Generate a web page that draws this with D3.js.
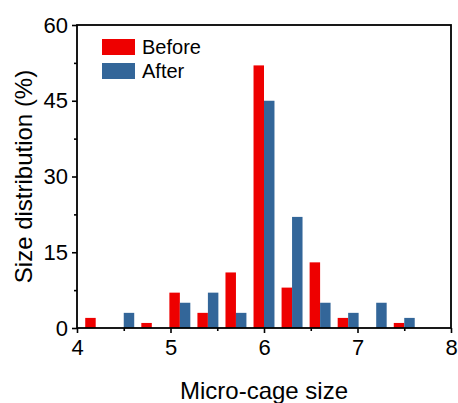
<!DOCTYPE html>
<html>
<head>
<meta charset="utf-8">
<script src="https://cdn.jsdelivr.net/npm/d3@7"></script>
<style>
  html, body { margin: 0; padding: 0; background: #fff; }
  svg { display: block; font-family: Arial, "Liberation Sans", sans-serif; }
</style>
</head>
<body>
<svg id="chart" width="458" height="403"></svg>
<script>
// Bin centres (micro-cage size) and percentage in each bin
const binCenters = [4.2, 4.5, 4.8, 5.1, 5.4, 5.7, 6.0, 6.3, 6.6, 6.9, 7.2, 7.5];
const beforeValues = [2, 0, 1, 7, 3, 11, 52, 8, 13, 2, 0, 1];
const afterValues  = [0, 3, 0, 5, 7, 3, 45, 22, 5, 3, 5, 2];
const seriesNames = ["Before", "After"];
const seriesColors = ["#ee0000", "#336699"];
const xTicks = [4, 5, 6, 7, 8];
const xMinorTicks = [4.5, 5.5, 6.5, 7.5];
const yTicks = [0, 15, 30, 45, 60];
const yMinorTicks = [7.5, 22.5, 37.5, 52.5];

const svg = d3.select("#chart");
const margin = { left: 77, right: 7, top: 25, bottom: 75 };
const W = 458, H = 403;

const x = d3.scaleLinear().domain([4, 8]).range([margin.left, W - margin.right]);
const y = d3.scaleLinear().domain([0, 60]).range([H - margin.bottom, margin.top]);

const barW = 0.112; // bar width in data units
const series = [beforeValues, afterValues];

// bars: Before to the left of each bin centre, After to the right
series.forEach((vals, si) => {
  svg.append("g")
    .selectAll("rect")
    .data(binCenters.map((c, i) => ({ c, v: vals[i] })).filter(d => d.v > 0))
    .join("rect")
    .attr("x", d => si === 0 ? x(d.c - barW) : x(d.c))
    .attr("width", d => x(d.c + barW) - x(d.c))
    .attr("y", d => y(d.v))
    .attr("height", d => y(0) - y(d.v))
    .attr("fill", seriesColors[si]);
});

// axes
const xAxis = d3.axisBottom(x).tickValues(xTicks).tickSize(5).tickPadding(6).tickFormat(d3.format("d"));
const yAxis = d3.axisLeft(y).tickValues(yTicks).tickSize(5).tickPadding(4).tickFormat(d3.format("d"));

const gx = svg.append("g").attr("transform", `translate(0,${y(0)})`).call(xAxis);
const gy = svg.append("g").attr("transform", `translate(${x(4)},0)`).call(yAxis);

svg.append("g").attr("transform", `translate(0,${y(0)})`)
  .call(d3.axisBottom(x).tickValues(xMinorTicks).tickSize(3).tickFormat(""))
  .call(g => g.select(".domain").remove());
svg.append("g").attr("transform", `translate(${x(4)},0)`)
  .call(d3.axisLeft(y).tickValues(yMinorTicks).tickSize(3).tickFormat(""))
  .call(g => g.select(".domain").remove());

svg.selectAll(".domain").remove();
svg.selectAll(".tick line").attr("stroke", "#000").attr("stroke-width", 1.6);
svg.selectAll(".tick text").attr("fill", "#000").style("font-size", "22px")
  .style("font-family", "Arial, 'Liberation Sans', sans-serif");

// plot frame
svg.append("rect")
  .attr("x", x(4)).attr("y", y(60))
  .attr("width", x(8) - x(4)).attr("height", y(0) - y(60))
  .attr("fill", "none").attr("stroke", "#000").attr("stroke-width", 1.8);

// axis titles
svg.append("text")
  .attr("x", (x(4) + x(8)) / 2).attr("y", 399)
  .attr("text-anchor", "middle").style("font-size", "24px")
  .text("Micro-cage size");
svg.append("text")
  .attr("transform", `translate(32,${(y(0) + y(60)) / 2}) rotate(-90)`)
  .attr("text-anchor", "middle").style("font-size", "24px")
  .text("Size distribution (%)");

// legend
const legend = svg.append("g");
seriesNames.forEach((name, i) => {
  legend.append("rect")
    .attr("x", 102).attr("y", 39 + i * 24)
    .attr("width", 33).attr("height", 16)
    .attr("fill", seriesColors[i]);
  legend.append("text")
    .attr("x", 142).attr("y", 54 + i * 24)
    .style("font-size", "20px")
    .text(name);
});
</script>
</body>
</html>
